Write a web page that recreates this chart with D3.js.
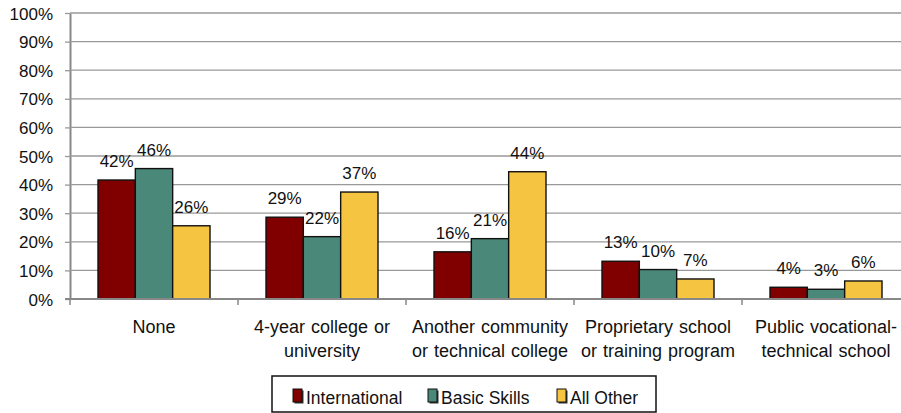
<!DOCTYPE html>
<html><head><meta charset="utf-8">
<script src="https://cdn.jsdelivr.net/npm/d3@7"></script>
<style>body{margin:0;background:#fff}svg{display:block}text{font-family:"Liberation Sans",Arial,sans-serif;fill:#111}</style>
</head><body>
<script>
const categories = ["None", "4-year college or university", "Another community or technical college", "Proprietary school or training program", "Public vocational-technical school"];
const categoryLines = [["None"], ["4-year college or", "university"], ["Another community", "or technical college"], ["Proprietary school", "or training program"], ["Public vocational-", "technical school"]];
const seriesNames = ["International", "Basic Skills", "All Other"];
const international = [41.6, 28.6, 16.5, 13.2, 4.1];
const basicSkills = [45.6, 21.8, 21.1, 10.3, 3.4];
const allOther = [25.6, 37.4, 44.5, 7.0, 6.3];
const labelInternational = ["42%", "29%", "16%", "13%", "4%"];
const labelBasicSkills = ["46%", "22%", "21%", "10%", "3%"];
const labelAllOther = ["26%", "37%", "44%", "7%", "6%"];
const yTicks = [0, 10, 20, 30, 40, 50, 60, 70, 80, 90, 100];
const colors = ["#800000", "#4a887a", "#f5c542"];

const series = [international, basicSkills, allOther];
const labels = [labelInternational, labelBasicSkills, labelAllOther];

const W = 901, H = 413;
const svg = d3.select("body").append("svg").attr("width", W).attr("height", H);

const mLeft = 70, mBottom = 299, mTop = 13, mRight = 910;
const y = d3.scaleLinear().domain([0, 100]).range([mBottom, mTop]);
const x0 = d3.scaleBand().domain(categories).range([mLeft, mRight]).padding(0);
const bw = x0.bandwidth();
const x1 = d3.scaleBand().domain(seriesNames).range([bw / 6, bw * 5 / 6]).padding(0);

// y axis with ticks
const yAxis = d3.axisLeft(y).tickValues(yTicks).tickSize(5).tickSizeOuter(0).tickFormat(d => d + "%");
const gy = svg.append("g").attr("transform", `translate(${mLeft},0)`).call(yAxis);
gy.select(".domain").attr("stroke", "#888").attr("stroke-width", 2);
gy.selectAll(".tick line").attr("stroke", "#999").attr("stroke-width", 1.3);
gy.selectAll(".tick text").attr("font-size", 17).attr("x", -17).attr("dy", "0.36em").style("font-family", '"Liberation Sans",Arial,sans-serif').attr("fill", "#111");

// gridlines
svg.append("g").selectAll("line").data(yTicks.filter(d => d > 0)).join("line")
  .attr("x1", mLeft).attr("x2", W).attr("y1", d => y(d)).attr("y2", d => y(d))
  .attr("stroke", "#999").attr("stroke-width", 1.3);

// bars
const rows = (c, i) => seriesNames.map((s, j) => ({s, j, v: series[j][i], l: labels[j][i]}));
const groups = svg.append("g").selectAll("g").data(categories).join("g")
  .attr("transform", d => `translate(${x0(d)},0)`);
groups.selectAll("rect").data(rows).join("rect")
  .attr("x", d => x1(d.s)).attr("width", x1.bandwidth())
  .attr("y", d => y(d.v)).attr("height", d => y(0) - y(d.v))
  .attr("fill", d => colors[d.j]).attr("stroke", "#111").attr("stroke-width", 1.4);
groups.selectAll("text").data(rows).join("text")
  .attr("x", d => x1(d.s) + x1.bandwidth() / 2).attr("y", d => y(d.v) - 13)
  .attr("text-anchor", "middle").attr("font-size", 17).text(d => d.l);

// x axis
svg.append("line").attr("x1", mLeft - 5).attr("x2", W).attr("y1", mBottom).attr("y2", mBottom)
  .attr("stroke", "#888").attr("stroke-width", 2);
svg.append("g").selectAll("line").data(categories).join("line")
  .attr("x1", d => x0(d)).attr("x2", d => x0(d)).attr("y1", mBottom).attr("y2", mBottom + 6)
  .attr("stroke", "#888").attr("stroke-width", 1.5);

const cl = svg.append("g").selectAll("text").data(categories).join("text")
  .attr("text-anchor", "middle").attr("font-size", 18).attr("word-spacing", 1);
cl.each(function(d, i) {
  const t = d3.select(this);
  categoryLines[i].forEach((ln, k) => {
    t.append("tspan").attr("x", x0(d) + bw / 2).attr("y", 333 + k * 24).text(ln);
  });
});

// legend
const lg = svg.append("g");
lg.append("rect").attr("x", 272).attr("y", 376).attr("width", 384).attr("height", 36)
  .attr("fill", "#fff").attr("stroke", "#111").attr("stroke-width", 1.5);
const legendX = [293, 428, 557];
seriesNames.forEach((s, j) => {
  lg.append("rect").attr("x", legendX[j] + 1.5).attr("y", 390.5).attr("width", 9).attr("height", 13).attr("fill", "#333");
  lg.append("rect").attr("x", legendX[j]).attr("y", 389).attr("width", 9).attr("height", 13)
    .attr("fill", colors[j]).attr("stroke", "#111").attr("stroke-width", 1);
  lg.append("text").attr("x", legendX[j] + 13).attr("y", 404).attr("font-size", 17.5).text(s);
});
</script>
</body></html>
